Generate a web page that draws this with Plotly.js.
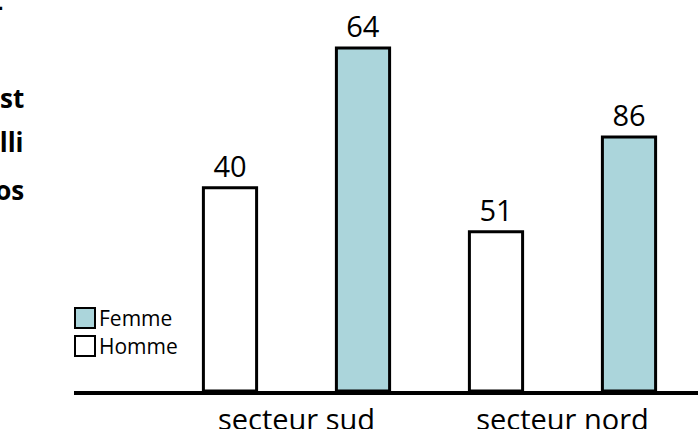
<!DOCTYPE html>
<html><head><meta charset="utf-8">
<script src="https://cdn.plot.ly/plotly-3.0.1.min.js"></script>
<style>html,body{margin:0;padding:0;background:#fff;overflow:hidden}#chart{width:698px;height:429px}</style>
</head><body><div id="chart"></div>
<script>
// ---- data ----
const categories = ['secteur sud', 'secteur nord'];
const seriesNames = ['Homme', 'Femme'];
const hommeLabels = [40, 51];
const femmeLabels = [64, 86];
// apparent bar heights as drawn in the picture (units where the "64" bar is 64 tall)
const hommeHeights = [37.9, 29.7];
const femmeHeights = [64, 47.4];
const legendOrder = ['Femme', 'Homme'];
const titleLines = ['Quelle part de la population est-', 'Le nombre de personnes ayant répondu est', 'plus élevé dans le secteur où l\'on a recueilli', 'les échantillons les plus gros'];

// ---- style ----
const teal = '#abd5db';
const fillOf = {Homme: '#ffffff', Femme: teal};
const FONT = 'Open Sans, Noto Sans, sans-serif';
const W = 698, H = 429;
const M = {l: 74, r: 0, t: 5, b: 38};
const pw = W - M.l - M.r, ph = H - M.t - M.b;
const px = x => (x - M.l) / pw;
const py = y => (H - M.b - y) / ph;

function barTrace(name, heights, labels) {
  return {
    type: 'bar', name: name, x: categories, y: heights,
    text: labels.map(String), textposition: 'outside', cliponaxis: false,
    constraintext: 'none', textangle: 0,
    textfont: {family: FONT, size: 29, color: '#000'},
    marker: {color: fillOf[name], line: {color: '#000', width: 3}},
    hoverinfo: 'skip', showlegend: false
  };
}
const traces = [
  barTrace(seriesNames[0], hommeHeights, hommeLabels),
  barTrace(seriesNames[1], femmeHeights, femmeLabels)
];

const shapes = [], annotations = [];
legendOrder.forEach((name, i) => {
  const cy = 318 + i * 28;
  shapes.push({type: 'rect', xref: 'paper', yref: 'paper',
    x0: px(75), x1: px(95), y0: py(cy - 10), y1: py(cy + 10),
    fillcolor: fillOf[name], line: {color: '#000', width: 2}});
  annotations.push({xref: 'paper', yref: 'paper', x: px(97), y: py(cy),
    xanchor: 'left', yanchor: 'middle', showarrow: false, text: name,
    font: {family: FONT, size: 21, color: '#000'}});
});
const titleY = [6, 98, 142, 190];
titleLines.forEach((t, i) => {
  annotations.push({xref: 'paper', yref: 'paper', x: px(i === 0 ? 5 : 26), y: py(titleY[i]),
    xanchor: 'right', yanchor: 'middle', showarrow: false, text: '<b>' + t + '</b>',
    font: {family: FONT, size: 26, color: '#000'}});
});

const cat0 = 296.5, catW = 266;
const layout = {
  width: W, height: H, margin: M,
  paper_bgcolor: '#fff', plot_bgcolor: '#fff',
  barmode: 'group', bargap: 0, bargroupgap: 0.6,
  showlegend: false,
  xaxis: {type: 'category', range: [-(cat0 - M.l) / catW, -(cat0 - M.l) / catW + pw / catW],
    showline: true, linecolor: '#000', linewidth: 4, ticks: '', showgrid: false, zeroline: false,
    tickfont: {family: FONT, size: 29, color: '#000'}, fixedrange: true},
  yaxis: {range: [0, 72], visible: false, fixedrange: true},
  shapes: shapes, annotations: annotations
};
Plotly.newPlot('chart', traces, layout, {displayModeBar: false, staticPlot: true});
</script></body></html>
